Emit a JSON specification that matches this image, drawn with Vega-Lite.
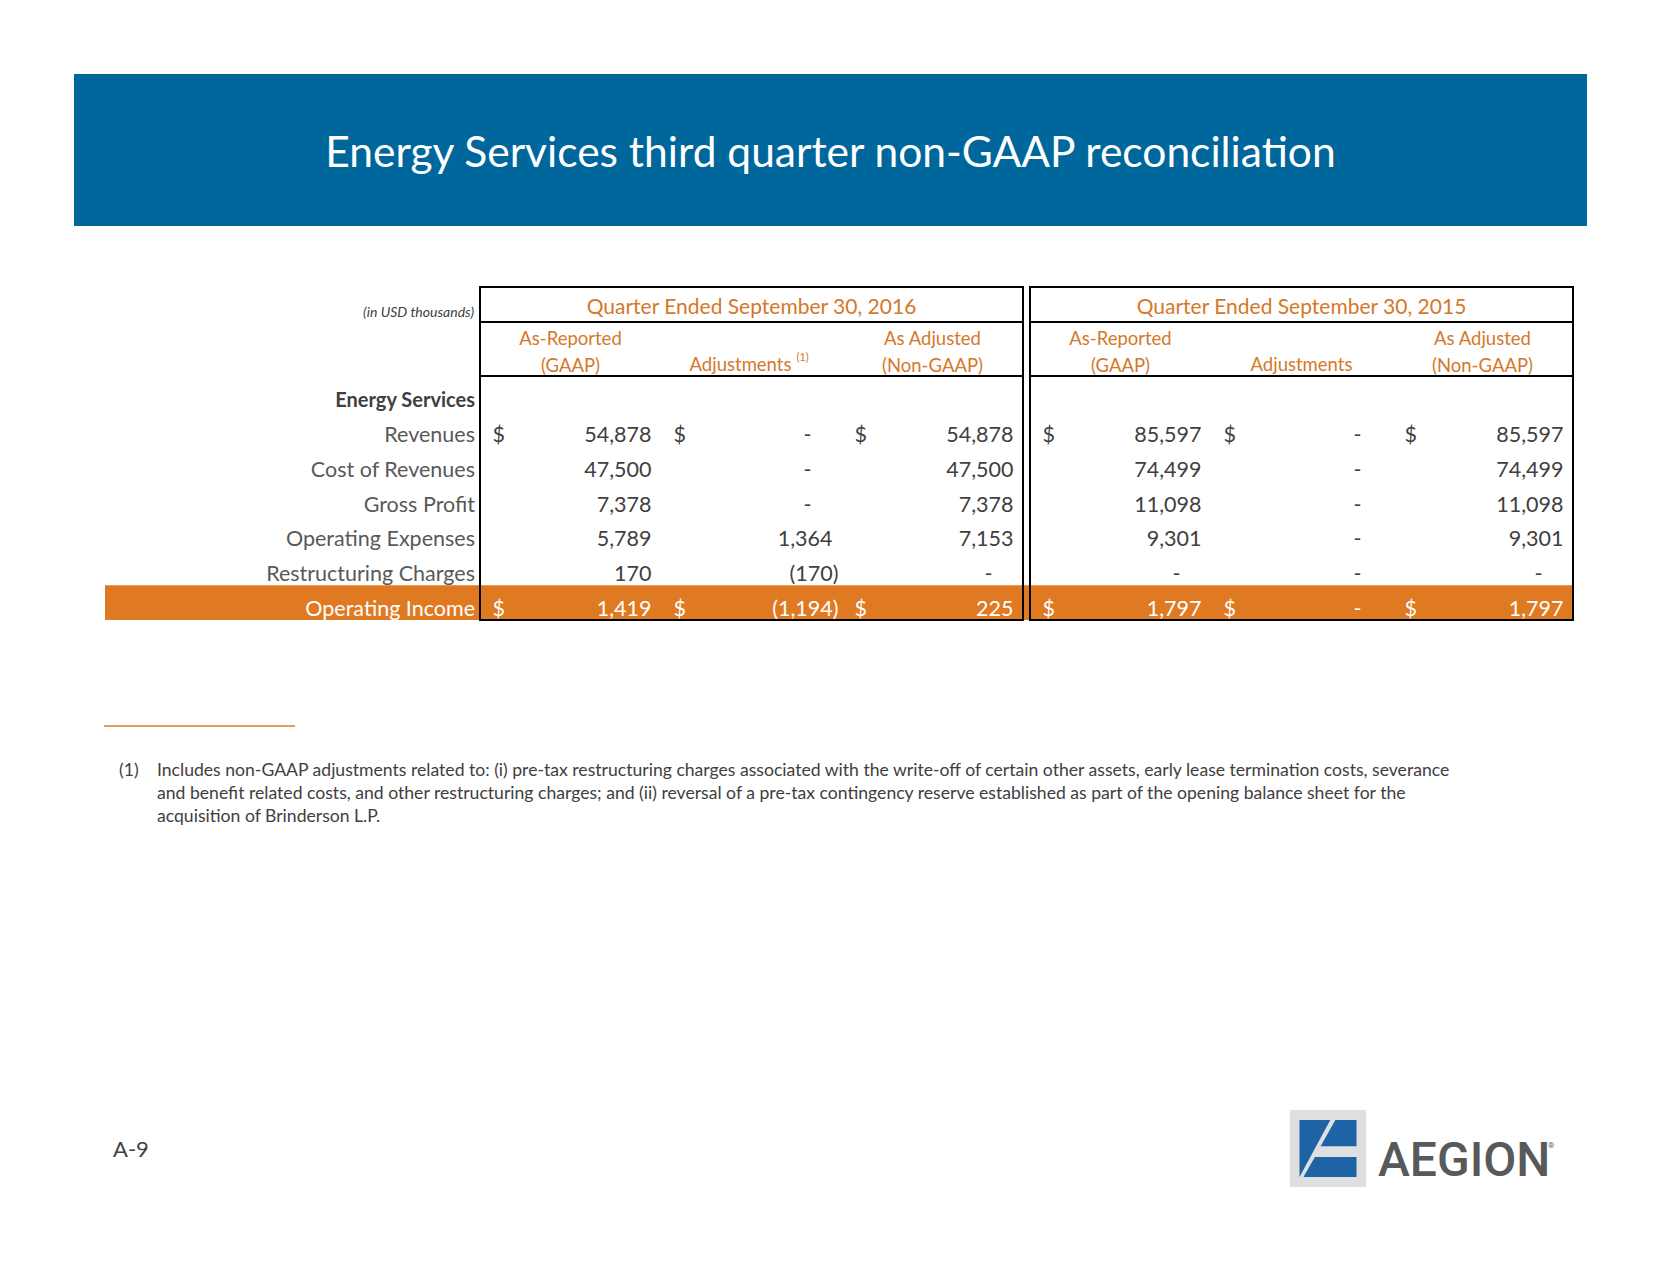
{
  "$schema": "https://vega.github.io/schema/vega-lite/v6.json",
  "width": 1662,
  "height": 1275,
  "padding": 0,
  "autosize": {"type": "none"},
  "background": "white",
  "config": {
    "view": {"stroke": null},
    "axis": {"disable": true},
    "legend": {"disable": true},
    "text": {"font": "Lato"}
  },
  "datasets": {
    "banner": [{"part": "Energy Services third quarter non-GAAP reconciliation"}],
    "table": [
      {"period": "2016", "line": "Revenues", "GAAP": 54878, "Adj": 0, "NonGAAP": 54878},
      {"period": "2016", "line": "Cost of Revenues", "GAAP": 47500, "Adj": 0, "NonGAAP": 47500},
      {"period": "2016", "line": "Gross Profit", "GAAP": 7378, "Adj": 0, "NonGAAP": 7378},
      {"period": "2016", "line": "Operating Expenses", "GAAP": 5789, "Adj": 1364, "NonGAAP": 7153},
      {"period": "2016", "line": "Restructuring Charges", "GAAP": 170, "Adj": -170, "NonGAAP": 0},
      {"period": "2016", "line": "Operating Income", "GAAP": 1419, "Adj": -1194, "NonGAAP": 225},
      {"period": "2015", "line": "Revenues", "GAAP": 85597, "Adj": 0, "NonGAAP": 85597},
      {"period": "2015", "line": "Cost of Revenues", "GAAP": 74499, "Adj": 0, "NonGAAP": 74499},
      {"period": "2015", "line": "Gross Profit", "GAAP": 11098, "Adj": 0, "NonGAAP": 11098},
      {"period": "2015", "line": "Operating Expenses", "GAAP": 9301, "Adj": 0, "NonGAAP": 9301},
      {"period": "2015", "line": "Restructuring Charges", "GAAP": 0, "Adj": 0, "NonGAAP": 0},
      {"period": "2015", "line": "Operating Income", "GAAP": 1797, "Adj": 0, "NonGAAP": 1797}
    ],
    "lines": [
      {"line": "Energy Services"},
      {"line": "Revenues"},
      {"line": "Cost of Revenues"},
      {"line": "Gross Profit"},
      {"line": "Operating Expenses"},
      {"line": "Restructuring Charges"},
      {"line": "Operating Income"}
    ],
    "quarters": [
      {"period": "2016", "label": "Quarter Ended September 30, 2016"},
      {"period": "2015", "label": "Quarter Ended September 30, 2015"}
    ],
    "unit": [{"unit": "(in USD thousands)"}],
    "subheads": [
      {"period": "2016", "col": "GAAP", "label": "As-Reported\n(GAAP)"},
      {"period": "2016", "col": "Adj", "label": "Adjustments", "note": "(1)"},
      {"period": "2016", "col": "NonGAAP", "label": "As Adjusted\n(Non-GAAP)"},
      {"period": "2015", "col": "GAAP", "label": "As-Reported\n(GAAP)"},
      {"period": "2015", "col": "Adj", "label": "Adjustments"},
      {"period": "2015", "col": "NonGAAP", "label": "As Adjusted\n(Non-GAAP)"}
    ],
    "footnote": [
      {"marker": "(1)", "note": "Includes non-GAAP adjustments related to: (i) pre-tax restructuring charges associated with the write-off of certain other assets, early lease termination costs, severance\nand benefit related costs, and other restructuring charges; and (ii) reversal of a pre-tax contingency reserve established as part of the opening balance sheet for the\nacquisition of Brinderson L.P."}
    ],
    "page": [{"page": "A-9"}],
    "logo": [{"brand": "AEGION", "mark": "®"}]
  },
  "resolve": {"scale": {"x": "independent", "y": "independent", "xOffset": "independent"}},
  "layer": [
    {
      "data": {"name": "banner"},
      "encoding": {
        "x": {"field": "part", "type": "nominal", "scale": {"type": "band", "range": [74, 1587], "paddingInner": 0, "paddingOuter": 0}},
        "y": {"field": "part", "type": "nominal", "scale": {"type": "band", "range": [74, 226], "paddingInner": 0, "paddingOuter": 0}}
      },
      "layer": [
        {"mark": {"type": "rect", "color": "#00679C"}},
        {"mark": {"type": "text", "color": "white", "fontSize": 42.5, "baseline": "middle", "align": "center", "dy": 4}, "encoding": {"text": {"field": "part"}}}
      ]
    },
    {
      "data": {"name": "lines"},
      "transform": [{"filter": "datum.line === 'Operating Income'"}],
      "mark": {"type": "rect", "color": "#DF7A22"},
      "encoding": {
        "x": {"datum": "row", "type": "nominal", "scale": {"type": "band", "domain": ["row"], "range": [105, 1573], "paddingInner": 0, "paddingOuter": 0}},
        "y": {"field": "line", "type": "nominal", "scale": {"type": "band", "domain": ["Energy Services", "Revenues", "Cost of Revenues", "Gross Profit", "Operating Expenses", "Restructuring Charges", "Operating Income"], "range": [377, 620], "paddingInner": 0, "paddingOuter": 0}}
      }
    },
    {
      "data": {"name": "quarters"},
      "mark": {"type": "rect", "fillOpacity": 0, "stroke": "black", "strokeWidth": 2},
      "encoding": {
        "x": {"field": "period", "type": "nominal", "scale": {"type": "band", "domain": ["2016", "2015"], "range": [480, 1573], "paddingInner": 0.0127, "paddingOuter": 0}},
        "y": {"datum": "body", "type": "nominal", "scale": {"type": "band", "domain": ["body"], "range": [376, 620], "paddingInner": 0, "paddingOuter": 0}}
      }
    },
    {
      "data": {"name": "table"},
      "transform": [{"fold": ["GAAP", "Adj", "NonGAAP"], "as": ["col", "value"]}],
      "encoding": {
        "x": {"field": "period", "type": "nominal", "scale": {"type": "band", "domain": ["2016", "2015"], "range": [480, 1573], "paddingInner": 0.0127, "paddingOuter": 0}},
        "xOffset": {"field": "col", "type": "nominal", "scale": {"type": "band", "domain": ["GAAP", "Adj", "NonGAAP"], "paddingInner": 0, "paddingOuter": 0}},
        "y": {"field": "line", "type": "nominal", "scale": {"type": "band", "domain": ["Energy Services", "Revenues", "Cost of Revenues", "Gross Profit", "Operating Expenses", "Restructuring Charges", "Operating Income"], "range": [377, 620], "paddingInner": 0, "paddingOuter": 0}},
        "color": {"condition": {"test": "datum.line === 'Operating Income'", "value": "#FFFFFF"}, "value": "#404040"}
      },
      "layer": [
        {
          "transform": [{"filter": "datum.line === 'Revenues' || datum.line === 'Operating Income'"}],
          "mark": {"type": "text", "fontSize": 21.5, "align": "left", "baseline": "middle", "dx": -78, "dy": 7},
          "encoding": {"text": {"value": "$"}}
        },
        {
          "transform": [{"filter": "datum.value > 0"}],
          "mark": {"type": "text", "fontSize": 21.5, "align": "right", "baseline": "middle", "dx": 81, "dy": 7},
          "encoding": {"text": {"field": "value", "type": "quantitative", "format": ","}}
        },
        {
          "transform": [{"filter": "datum.value < 0"}],
          "mark": {"type": "text", "fontSize": 21.5, "align": "right", "baseline": "middle", "dx": 87, "dy": 7},
          "encoding": {"text": {"field": "value", "type": "quantitative", "format": "(,"}}
        },
        {
          "transform": [{"filter": "datum.value === 0"}],
          "mark": {"type": "text", "fontSize": 21.5, "align": "center", "baseline": "middle", "dx": 56, "dy": 7},
          "encoding": {"text": {"value": "-"}}
        }
      ]
    },
    {
      "data": {"name": "lines"},
      "encoding": {
        "x": {"datum": "2016", "type": "nominal", "bandPosition": 0, "scale": {"type": "band", "domain": ["2016", "2015"], "range": [480, 1573], "paddingInner": 0.0127, "paddingOuter": 0}},
        "y": {"field": "line", "type": "nominal", "scale": {"type": "band", "domain": ["Energy Services", "Revenues", "Cost of Revenues", "Gross Profit", "Operating Expenses", "Restructuring Charges", "Operating Income"], "range": [377, 620], "paddingInner": 0, "paddingOuter": 0}},
        "text": {"field": "line"}
      },
      "layer": [
        {
          "transform": [{"filter": "datum.line === 'Energy Services'"}],
          "mark": {"type": "text", "fontSize": 20, "fontWeight": "bold", "color": "#404040", "align": "right", "baseline": "middle", "dx": -5, "dy": 7}
        },
        {
          "transform": [{"filter": "datum.line !== 'Energy Services' && datum.line !== 'Operating Income'"}],
          "mark": {"type": "text", "fontSize": 21.5, "color": "#595959", "align": "right", "baseline": "middle", "dx": -5, "dy": 7}
        },
        {
          "transform": [{"filter": "datum.line === 'Operating Income'"}],
          "mark": {"type": "text", "fontSize": 21.5, "color": "#FFFFFF", "align": "right", "baseline": "middle", "dx": -5, "dy": 7}
        }
      ]
    },
    {
      "data": {"name": "quarters"},
      "encoding": {
        "x": {"field": "period", "type": "nominal", "scale": {"type": "band", "domain": ["2016", "2015"], "range": [480, 1573], "paddingInner": 0.0127, "paddingOuter": 0}},
        "y": {"datum": "quarter", "type": "nominal", "scale": {"type": "band", "domain": ["quarter"], "range": [287, 322], "paddingInner": 0, "paddingOuter": 0}}
      },
      "layer": [
        {"mark": {"type": "rect", "fillOpacity": 0, "stroke": "black", "strokeWidth": 2}},
        {"mark": {"type": "text", "fontSize": 21, "color": "#D4782A", "align": "center", "baseline": "middle", "dy": 3}, "encoding": {"text": {"field": "label"}}},
        {
          "data": {"name": "unit"},
          "mark": {"type": "text", "fontSize": 14, "fontStyle": "italic", "color": "#404040", "align": "right", "baseline": "middle", "dx": -6, "dy": 8},
          "encoding": {"x": {"datum": "2016", "type": "nominal", "bandPosition": 0}, "text": {"field": "unit"}}
        }
      ]
    },
    {
      "data": {"name": "subheads"},
      "encoding": {
        "x": {"field": "period", "type": "nominal", "scale": {"type": "band", "domain": ["2016", "2015"], "range": [480, 1573], "paddingInner": 0.0127, "paddingOuter": 0}},
        "y": {"datum": "sub", "type": "nominal", "scale": {"type": "band", "domain": ["sub"], "range": [322, 376], "paddingInner": 0, "paddingOuter": 0}}
      },
      "layer": [
        {"transform": [{"filter": "datum.col === 'GAAP'"}], "mark": {"type": "rect", "fillOpacity": 0, "stroke": "black", "strokeWidth": 2}},
        {
          "transform": [{"filter": "datum.col !== 'Adj'"}],
          "mark": {"type": "text", "fontSize": 18.5, "color": "#D4782A", "align": "center", "baseline": "middle", "lineBreak": "\n", "lineHeight": 27, "dy": -10},
          "encoding": {"xOffset": {"field": "col", "type": "nominal", "scale": {"type": "band", "domain": ["GAAP", "Adj", "NonGAAP"], "paddingInner": 0, "paddingOuter": 0}}, "text": {"field": "label"}}
        },
        {
          "transform": [{"filter": "datum.col === 'Adj' && isValid(datum.note)"}],
          "mark": {"type": "text", "fontSize": 18.5, "color": "#D4782A", "align": "center", "baseline": "middle", "dx": -11, "dy": 16},
          "encoding": {"xOffset": {"field": "col", "type": "nominal", "scale": {"type": "band", "domain": ["GAAP", "Adj", "NonGAAP"], "paddingInner": 0, "paddingOuter": 0}}, "text": {"field": "label"}}
        },
        {
          "transform": [{"filter": "datum.col === 'Adj' && !isValid(datum.note)"}],
          "mark": {"type": "text", "fontSize": 18.5, "color": "#D4782A", "align": "center", "baseline": "middle", "dy": 16},
          "encoding": {"xOffset": {"field": "col", "type": "nominal", "scale": {"type": "band", "domain": ["GAAP", "Adj", "NonGAAP"], "paddingInner": 0, "paddingOuter": 0}}, "text": {"field": "label"}}
        },
        {
          "transform": [{"filter": "isValid(datum.note)"}],
          "mark": {"type": "text", "fontSize": 11, "color": "#D4782A", "align": "left", "baseline": "middle", "dx": 45, "dy": 9},
          "encoding": {"xOffset": {"field": "col", "type": "nominal", "scale": {"type": "band", "domain": ["GAAP", "Adj", "NonGAAP"], "paddingInner": 0, "paddingOuter": 0}}, "text": {"field": "note"}}
        }
      ]
    },
    {
      "data": {"name": "footnote"},
      "mark": {"type": "rect", "color": "#DDA263"},
      "encoding": {
        "x": {"datum": "rule", "type": "nominal", "scale": {"type": "band", "domain": ["rule"], "range": [104, 295], "paddingInner": 0, "paddingOuter": 0}},
        "y": {"datum": "rule", "type": "nominal", "scale": {"type": "band", "domain": ["rule"], "range": [725, 727], "paddingInner": 0, "paddingOuter": 0}}
      }
    },
    {
      "data": {"name": "footnote"},
      "mark": {"type": "text", "fontSize": 17.6, "color": "#404040", "align": "left", "baseline": "middle"},
      "encoding": {
        "x": {"field": "marker", "type": "nominal", "bandPosition": 0, "scale": {"type": "band", "range": [119, 150], "paddingInner": 0, "paddingOuter": 0}},
        "y": {"field": "marker", "type": "nominal", "scale": {"type": "band", "range": [759, 783], "paddingInner": 0, "paddingOuter": 0}},
        "text": {"field": "marker"}
      }
    },
    {
      "data": {"name": "footnote"},
      "mark": {"type": "text", "fontSize": 17.6, "color": "#404040", "align": "left", "baseline": "middle", "lineBreak": "\n", "lineHeight": 23},
      "encoding": {
        "x": {"field": "marker", "type": "nominal", "bandPosition": 0, "scale": {"type": "band", "range": [157, 1500], "paddingInner": 0, "paddingOuter": 0}},
        "y": {"field": "marker", "type": "nominal", "scale": {"type": "band", "range": [759, 783], "paddingInner": 0, "paddingOuter": 0}},
        "text": {"field": "note"}
      }
    },
    {
      "data": {"name": "page"},
      "mark": {"type": "text", "fontSize": 22, "color": "#404040", "align": "left", "baseline": "middle"},
      "encoding": {
        "x": {"field": "page", "type": "nominal", "bandPosition": 0, "scale": {"type": "band", "range": [113, 160], "paddingInner": 0, "paddingOuter": 0}},
        "y": {"field": "page", "type": "nominal", "scale": {"type": "band", "range": [1138, 1162], "paddingInner": 0, "paddingOuter": 0}},
        "text": {"field": "page"}
      }
    },
    {
      "data": {"name": "logo"},
      "encoding": {
        "x": {"field": "brand", "type": "nominal", "scale": {"type": "band", "range": [1290, 1366], "paddingInner": 0, "paddingOuter": 0}},
        "y": {"field": "brand", "type": "nominal", "scale": {"type": "band", "range": [1110, 1187], "paddingInner": 0, "paddingOuter": 0}}
      },
      "layer": [
        {"mark": {"type": "rect", "color": "#DEDFE0"}},
        {"mark": {"type": "point", "filled": true, "opacity": 1, "color": "#1D63A5", "strokeWidth": 0, "size": 5776, "shape": "M-0.75,-0.75L0.06,-0.75L-0.75,0.75Z M0.195,-0.75L0.75,-0.75L0.75,-0.06L-0.195,-0.06Z M-0.345,0.225L0.75,0.225L0.75,0.75L-0.645,0.75Z"}}
      ]
    },
    {
      "data": {"name": "logo"},
      "encoding": {
        "x": {"field": "brand", "type": "nominal", "scale": {"type": "band", "range": [1378, 1542], "paddingInner": 0, "paddingOuter": 0}},
        "y": {"field": "brand", "type": "nominal", "scale": {"type": "band", "range": [1133, 1175], "paddingInner": 0, "paddingOuter": 0}}
      },
      "layer": [
        {"mark": {"type": "text", "font": "Roboto", "fontWeight": 500, "fontSize": 48, "color": "#58595B", "align": "left", "baseline": "middle", "dy": 8}, "encoding": {"x": {"field": "brand", "type": "nominal", "bandPosition": 0}, "text": {"field": "brand"}}},
        {"mark": {"type": "text", "font": "Roboto", "fontSize": 8, "color": "#58595B", "align": "left", "baseline": "middle", "dx": 6, "dy": -8}, "encoding": {"x": {"field": "brand", "type": "nominal", "bandPosition": 1}, "text": {"field": "mark"}}}
      ]
    }
  ]
}
